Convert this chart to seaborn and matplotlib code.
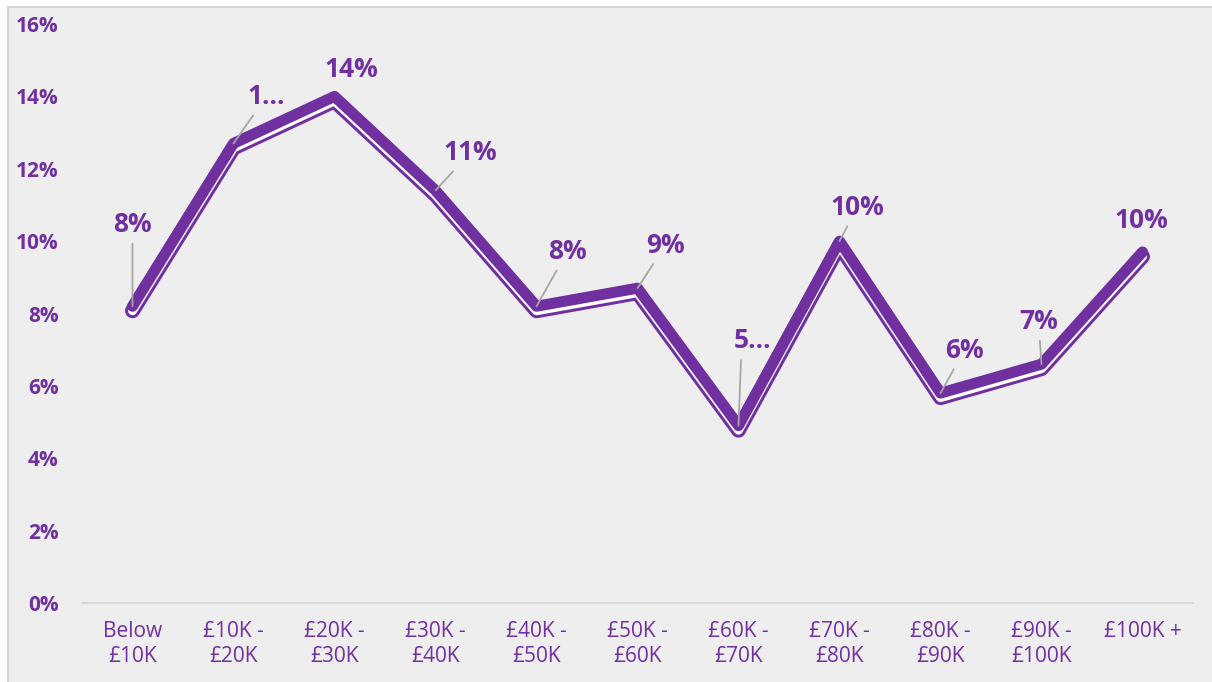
import pandas as pd
import matplotlib.pyplot as plt
import matplotlib.transforms as mtransforms
from matplotlib.patches import Rectangle
import seaborn as sns

# Data
bands = ['Below\n£10K', '£10K -\n£20K', '£20K -\n£30K', '£30K -\n£40K', '£40K -\n£50K',
         '£50K -\n£60K', '£60K -\n£70K', '£70K -\n£80K', '£80K -\n£90K', '£90K -\n£100K', '£100K +']
share = [8.2, 12.7, 14.0, 11.4, 8.2, 8.7, 4.9, 10.0, 5.8, 6.6, 9.7]
point_labels = ['8%', '1...', '14%', '11%', '8%', '9%', '5...', '10%', '6%', '7%', '10%']

# label placement (pixels from point) and whether a leader line is drawn
label_offsets = [(0, 82), (33, 47), (17, 27), (35, 38), (31, 55), (28, 43),
                 (14, 85), (18, 34), (24, 43), (-3, 43), (-1, 31)]
has_leader = [True, True, False, True, True, True, True, True, True, True, False]
leader_anchor = [(0.5, 0.5)] * 6 + [(0.2, 0.0)] + [(0.5, 0.5)] * 4

PURPLE = '#7030a0'
BG = '#eeeeee'

df = pd.DataFrame({'band': bands, 'share': share})

sns.set_theme(style='white')
plt.rcParams['font.family'] = ['Open Sans', 'DejaVu Sans']

fig = plt.figure(figsize=(12.12, 6.82), dpi=100, facecolor='white')
W, H = 1212, 682
fig.patches.append(Rectangle((8 / W, -0.01), 1.02, 1 - 7 / H + 0.01, transform=fig.transFigure,
                             facecolor=BG, edgecolor='#d4d4d4', lw=1.5, zorder=-10))

ax = fig.add_axes([82 / W, 79 / H, (1193 - 82) / W, (603 - 24) / H])
ax.set_facecolor(BG)
ax.patch.set_alpha(0)

px = 0.72  # points per pixel at dpi 100
shift = mtransforms.ScaledTranslation(0, -4.5 / 100, fig.dpi_scale_trans)

# compound line: thin purple + white gap underneath, thick purple on top
layers = [(PURPLE, 15 * px, True), ('white', 9 * px, True), (PURPLE, 11 * px, False)]
for color, lw, offset in layers:
    sns.lineplot(data=df, x='band', y='share', sort=False, color=color, lw=lw, ax=ax,
                 solid_joinstyle='round', solid_capstyle='round')
    if offset:
        ax.lines[-1].set_transform(ax.transData + shift)

for i, (txt, (dx, dy), lead) in enumerate(zip(point_labels, label_offsets, has_leader)):
    ax.annotate(txt, xy=(i, share[i]), xytext=(dx, dy), textcoords='offset pixels',
                ha='center', va='center', fontsize=19, fontweight='bold', color=PURPLE,
                arrowprops=dict(arrowstyle='-', color='#a6a6a6', lw=1.3, shrinkA=2, shrinkB=0,
                                relpos=leader_anchor[i])
                if lead else None)

ax.set_xlim(-0.5, len(bands) - 0.5)
ax.set_ylim(0, 16)
ax.set_yticks(range(0, 17, 2))
ax.set_yticklabels([f'{v}%' for v in range(0, 17, 2)], fontsize=15, fontweight='bold', color=PURPLE)
ax.set_xticks(range(len(bands)))
ax.set_xticklabels(bands, fontsize=15, color=PURPLE, linespacing=1.25)
ax.tick_params(axis='x', length=0, pad=13)
ax.tick_params(axis='y', length=0, pad=17)
ax.set_xlabel('')
ax.set_ylabel('')

for side in ['left', 'top', 'right']:
    ax.spines[side].set_visible(False)
ax.spines['bottom'].set_color('#d9d9d9')
ax.spines['bottom'].set_linewidth(1.5)

fig.savefig('out.png', dpi=100, facecolor='white')
